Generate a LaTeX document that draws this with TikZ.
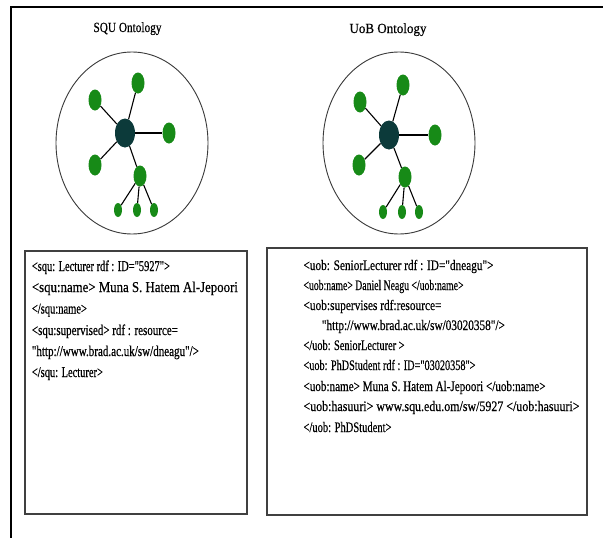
\documentclass[tikz,border=0pt]{standalone}
\usepackage{fontspec}
\usepackage{graphicx}
\setmainfont{Liberation Serif}[Ligatures=TeXOff,FakeBold=0.5]
\usetikzlibrary{shapes.geometric}
\definecolor{leafgreen}{HTML}{178A17}
\definecolor{hubteal}{HTML}{0C3A3A}
\definecolor{ringgray}{HTML}{3A3A3A}
\newsavebox\cwbox
\newcommand\codew[2]{\sbox\cwbox{#2}\pgfmathsetmacro\cwf{#1/(\wd\cwbox/1pt)}\scalebox{\cwf}[1]{\usebox\cwbox}}
\begin{document}
\begin{tikzpicture}[x=1pt,y=-1pt,
  leaf/.style={ellipse, fill=leafgreen, minimum width=13pt, minimum height=21pt, inner sep=0pt},
  twig/.style={ellipse, fill=leafgreen, minimum width=8pt, minimum height=14pt, inner sep=0pt},
  hub/.style={ellipse, fill=hubteal, minimum width=20pt, minimum height=29pt, inner sep=0pt},
  ring/.style={ellipse, draw=ringgray, line width=0.9pt, minimum width=152pt, minimum height=182pt, inner sep=0pt},
  link/.style={line width=1.1pt, black},
  codebox/.style={draw=black!75, line width=1.4pt, inner sep=0pt},
  sqline/.style={anchor=base west, inner sep=0pt, font=\fontsize{15}{17}\selectfont},
  uobline/.style={anchor=base west, inner sep=0pt, font=\fontsize{14.5}{16}\selectfont},
  title/.style={anchor=base, inner sep=0pt, font=\fontsize{14}{16}\selectfont}]
\useasboundingbox (0,0) rectangle (603,538);
\fill[white] (0,0) rectangle (603,538);
% outer frame
\draw[line width=2pt] (11,538) -- (11,7) -- (603,7);

% ---------- SQU ontology ----------
\node[title] (sqtitle) at (127.5,32) {\codew{68}{SQU Ontology}};
\node[ring] (sqring) at (132,143) {};
\node[hub] (sqhub) at (125,133) {};
\node[leaf] (sqtop) at (138,83) {};
\node[leaf] (squl) at (95,100) {};
\node[leaf] (sqrt) at (169,133) {};
\node[leaf] (sqll) at (95,165) {};
\node[leaf] (sqlm) at (140,176) {};
\node[twig] (sqs1) at (118,210) {};
\node[twig] (sqs2) at (137,210) {};
\node[twig] (sqs3) at (154,210) {};
\foreach \n in {sqtop,squl,sqrt,sqll,sqlm} \draw[link] (sqhub) -- (\n);
\foreach \n in {sqs1,sqs2,sqs3} \draw[link] (sqlm) -- (\n);

% ---------- UoB ontology ----------
\node[title] (uobtitle) at (388,33) {\codew{77}{UoB Ontology}};
\node[ring] (uobring) at (399,143) {};
\node[hub] (uobhub) at (389,135) {};
\node[leaf] (uobtop) at (403,85) {};
\node[leaf] (uobul) at (360,102) {};
\node[leaf] (uobrt) at (435,135) {};
\node[leaf] (uobll) at (359,165) {};
\node[leaf] (uoblm) at (405,177) {};
\node[twig] (uobs1) at (383,212) {};
\node[twig] (uobs2) at (402,212) {};
\node[twig] (uobs3) at (419,212) {};
\foreach \n in {uobtop,uobul,uobrt,uobll,uoblm} \draw[link] (uobhub) -- (\n);
\foreach \n in {uobs1,uobs2,uobs3} \draw[link] (uoblm) -- (\n);

% ---------- code boxes ----------
\node[codebox, minimum width=222pt, minimum height=263pt] (sqbox) at (136,382.5) {};
\node[codebox, minimum width=320pt, minimum height=267pt] (uobbox) at (427,381.5) {};

\node[sqline] (sq1) at (31.7,271) {\codew{138}{<squ: Lecturer rdf : ID="5927">}};
\node[sqline] (sq2) at (31.7,292) {\codew{206}{<squ:name> Muna S. Hatem Al-Jepoori}};
\node[sqline] (sq3) at (31.7,313.5) {\codew{55}{</squ:name>}};
\node[sqline] (sq4) at (31.7,335) {\codew{146}{<squ:supervised> rdf : resource=}};
\node[sqline] (sq5) at (31.7,356) {\codew{167}{"http://www.brad.ac.uk/sw/dneagu"/>}};
\node[sqline] (sq6) at (31.7,377) {\codew{71}{</squ: Lecturer>}};

\node[uobline] (uob1) at (303.3,270) {\codew{190}{<uob: SeniorLecturer rdf : ID="dneagu">}};
\node[uobline] (uob2) at (303.3,290) {\codew{160}{<uob:name> Daniel Neagu </uob:name>}};
\node[uobline] (uob3) at (303.3,310) {\codew{138}{<uob:supervises rdf:resource=}};
\node[uobline] (uob4) at (321.7,330) {\codew{183}{"http://www.brad.ac.uk/sw/03020358"/>}};
\node[uobline] (uob5) at (303.3,350) {\codew{101}{</uob: SeniorLecturer >}};
\node[uobline] (uob6) at (303.3,370) {\codew{172}{<uob: PhDStudent rdf : ID="03020358">}};
\node[uobline] (uob7) at (303.3,391) {\codew{242}{<uob:name> Muna S. Hatem Al-Jepoori </uob:name>}};
\node[uobline] (uob8) at (303.3,411) {\codew{276}{<uob:hasuuri> www.squ.edu.om/sw/5927 </uob:hasuuri>}};
\node[uobline] (uob9) at (303.3,432) {\codew{88}{</uob: PhDStudent>}};
\end{tikzpicture}
\end{document}
